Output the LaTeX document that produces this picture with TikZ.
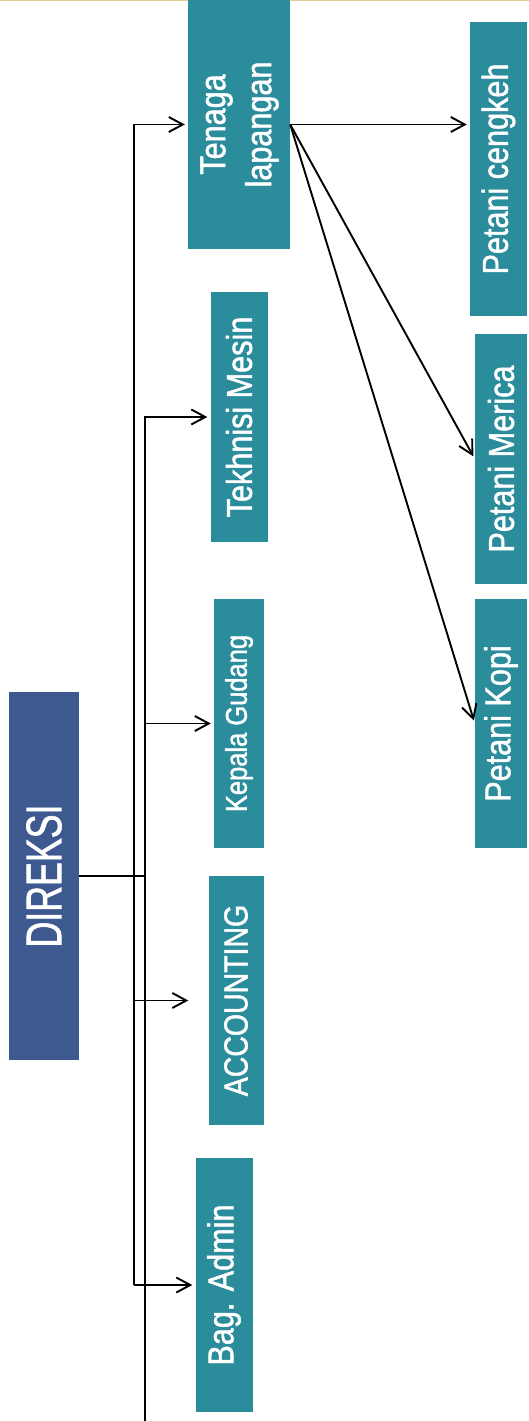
\documentclass[tikz,border=0pt]{standalone}
\usepackage{fontspec}
\setmainfont{Liberation Sans}[FakeStretch=0.85,FakeBold=1.3]
\usepackage{graphicx}
\usetikzlibrary{arrows.meta}
\definecolor{tealbox}{RGB}{43,140,156}
\definecolor{navybox}{RGB}{62,89,143}
\definecolor{topband}{RGB}{232,200,150}
\tikzset{
  unit/.style={fill=tealbox, text=white, inner sep=0pt, font=\fontsize{36}{46}\selectfont},
  head/.style={unit, fill=navybox, font=\fontsize{50}{56}\selectfont},
  link/.style={draw=black, line width=1.9pt, -{Straight Barb[length=14pt,width=15pt]}, shorten >=3pt},
  bus/.style={draw=black, line width=2pt},
}
\begin{document}
\begin{tikzpicture}[x=1pt,y=-1pt]
\useasboundingbox (0,0) rectangle (529,1421);
\fill[topband] (0,0) rectangle (529,1.5);
% top of the chart
\node[head, minimum width=70pt, minimum height=368pt] (direksi) at (44,876) {\rotatebox{90}{\scalebox{0.84}[1]{DIREKSI}}};
% units under the board
\node[unit, minimum width=102pt, minimum height=249pt] (tenaga) at (239,124.5) {\rotatebox{90}{\begin{tabular}{@{}c@{}}Tenaga\\lapangan\end{tabular}}};
\node[unit, minimum width=57pt, minimum height=250pt] (tekhnisi) at (239,417) {\rotatebox{90}{Tekhnisi Mesin}};
\node[unit, minimum width=50pt, minimum height=249pt, font=\fontsize{30}{36}\selectfont] (kepala) at (239,723.5) {\rotatebox{90}{Kepala Gudang}};
\node[unit, minimum width=55pt, minimum height=249pt, font=\fontsize{33.5}{40}\selectfont] (accounting) at (236,1000.5) {\rotatebox{90}{ACCOUNTING}};
\node[unit, minimum width=57pt, minimum height=254pt] (admin) at (224,1285) {\rotatebox{90}{Bag. Admin}};
% farmers
\node[unit, minimum width=57pt, minimum height=294pt] (cengkeh) at (498.5,169) {\rotatebox{90}{Petani cengkeh}};
\node[unit, minimum width=52pt, minimum height=250pt] (merica) at (501,459) {\rotatebox{90}{Petani Merica}};
\node[unit, minimum width=52pt, minimum height=249pt] (kopi) at (501,723.5) {\rotatebox{90}{Petani Kopi}};
% the two buses
\coordinate (busA) at (134,0);
\coordinate (busB) at (145,0);
\coordinate (busend) at (145,1421);
\draw[bus] (direksi.east) -- (direksi.east -| busB);
\draw[link] (busA |- admin.west) |- (tenaga.west);
\draw[link] (busA |- admin.west) -- (admin.west);
\draw[link, shorten >=20pt] (busA |- accounting.west) -- (accounting.west);
\draw[link] (busend) |- (tekhnisi.west);
\draw[link] (busB |- kepala.west) -- (kepala.west);
% field staff to farmers
\draw[link] (tenaga.east) -- (tenaga.east -| cengkeh.west);
\draw[link] (tenaga.east) -- (merica.west);
\draw[link] (tenaga.east) -- (kopi.west);
\end{tikzpicture}
\end{document}
